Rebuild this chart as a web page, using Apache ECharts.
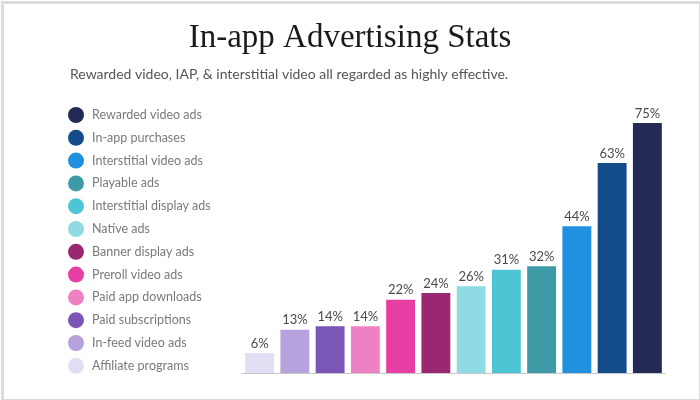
<!DOCTYPE html>
<html>
<head>
<meta charset="utf-8">
<script src="https://cdn.jsdelivr.net/npm/echarts@6/dist/echarts.min.js"></script>
<style>
html,body{margin:0;padding:0;background:#fff;}
#chart{width:700px;height:400px;}
</style>
</head>
<body>
<div id="chart"></div>
<script>
// Categories in bar order (left to right)
const categories = [
  'Affiliate programs', 'In-feed video ads', 'Paid subscriptions', 'Paid app downloads',
  'Preroll video ads', 'Banner display ads', 'Native ads', 'Interstitial display ads',
  'Playable ads', 'Interstitial video ads', 'In-app purchases', 'Rewarded video ads'
];
const values = [6, 13, 14, 14, 22, 24, 26, 31, 32, 44, 63, 75];
const colors = [
  '#e4def4', '#b6a2dd', '#7a56b6', '#ee80c4',
  '#e63ea3', '#9a2870', '#8fdae3', '#4ec5d5',
  '#3e9aa7', '#2190df', '#134c89', '#222a55'
];
const legendOrder = categories.slice().reverse();

const series = categories.map((name, i) => ({
  name: name,
  type: 'bar',
  stack: 'all',
  barWidth: '82%',
  itemStyle: { color: colors[i] },
  label: {
    show: true,
    position: 'top',
    distance: 3,
    formatter: p => p.value == null ? '' : p.value + '%',
    color: '#4a4a4a',
    fontFamily: 'Lato',
    fontWeight: 'normal',
    fontSize: 13
  },
  data: values.map((v, j) => j === i ? v : null)
}));

const chart = echarts.init(document.getElementById('chart'));
chart.setOption({
  animation: false,
  backgroundColor: '#fff',
  title: [
    {
      text: 'In-app Advertising Stats',
      left: 'center',
      top: 17,
      textStyle: { fontFamily: 'Liberation Serif', fontWeight: 'normal', fontSize: 33, color: '#1a1a1a' }
    },
    {
      text: 'Rewarded video, IAP, & interstitial video all regarded as highly effective.',
      left: 65,
      top: 62,
      textStyle: { fontFamily: 'Lato', fontWeight: 'normal', fontSize: 14, color: '#555' }
    }
  ],
  legend: {
    orient: 'vertical',
    left: 63,
    top: 102,
    icon: 'circle',
    itemWidth: 16,
    itemHeight: 16,
    itemGap: 6.8,
    data: legendOrder,
    textStyle: { fontFamily: 'Lato', fontSize: 12.5, color: '#7a7a7a', padding: [0, 0, 0, 3] }
  },
  grid: { left: 242, right: 35, top: 123, bottom: 27, containLabel: false },
  xAxis: {
    type: 'category',
    data: categories,
    axisLine: { lineStyle: { color: '#c8c8c8', width: 1 } },
    axisTick: { show: false },
    axisLabel: { show: false }
  },
  yAxis: {
    type: 'value',
    min: 0,
    max: 75,
    show: false
  },
  graphic: [{
    type: 'rect',
    left: 0, top: 0,
    shape: { x: 1, y: 1, width: 698, height: 398 },
    style: { fill: 'none', stroke: '#dcdcdc', lineWidth: 3 },
    silent: true
  }],
  series: series
});
</script>
</body>
</html>
